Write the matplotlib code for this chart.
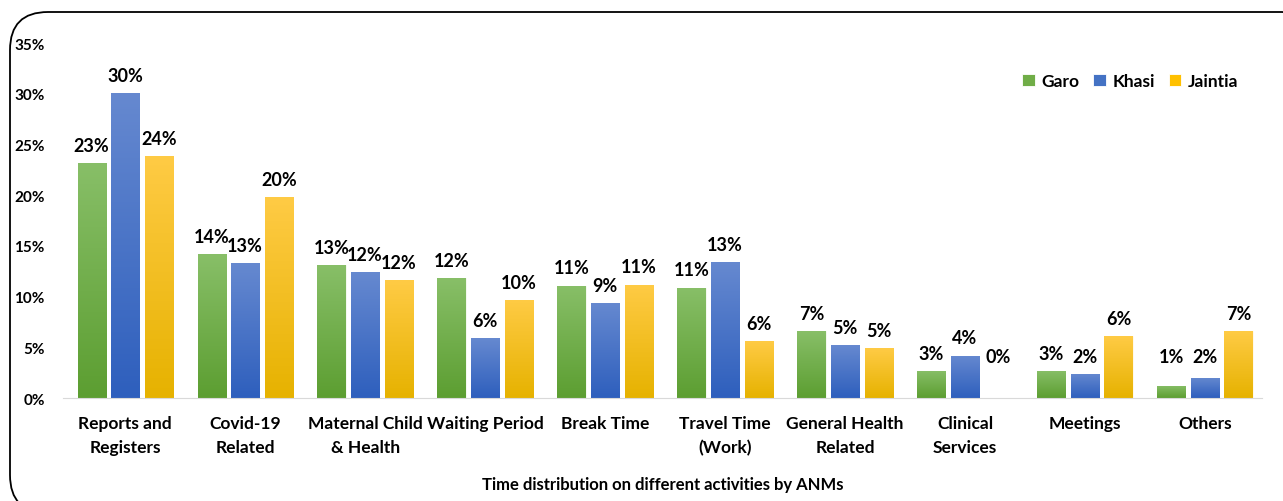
import numpy as np
import matplotlib.pyplot as plt
from matplotlib.patches import FancyBboxPatch
from matplotlib.colors import LinearSegmentedColormap

plt.rcParams['font.family'] = ['Lato', 'DejaVu Sans']

# data (percent of time)
categories = ["Reports and\nRegisters", "Covid-19\nRelated", "Maternal Child\n& Health",
              "Waiting Period", "Break Time", "Travel Time\n(Work)", "General Health\nRelated",
              "Clinical\nServices", "Meetings", "Others"]
garo = [23.2, 14.2, 13.1, 11.8, 11.1, 10.9, 6.6, 2.7, 2.7, 1.2]
khasi = [30.1, 13.3, 12.4, 5.9, 9.4, 13.4, 5.2, 4.2, 2.4, 2.0]
jaintia = [23.9, 19.8, 11.6, 9.7, 11.2, 5.6, 4.9, 0.0, 6.1, 6.6]
series_names = ["Garo", "Khasi", "Jaintia"]

# gradient colours: (top, bottom)
grads = [("#88BF68", "#5C9E31"), ("#6689D0", "#2E5FBD"), ("#FFCB45", "#E6B200")]
solid = ["#70AD47", "#4472C4", "#FFC000"]

fig = plt.figure(figsize=(12.83, 5.02), dpi=100)

# rounded frame, drawn in pixel units on a background axes (y measured from bottom)
bg = fig.add_axes([0, 0, 1, 1])
bg.set_xlim(0, 1283)
bg.set_ylim(0, 502)
bg.axis("off")
bg.add_patch(FancyBboxPatch((10, -12), 1310, 501, boxstyle="round,pad=0,rounding_size=38",
                            fill=False, edgecolor="black", linewidth=1.3))

ax = fig.add_axes([0.049, 0.205, 0.935, 0.707])
ax.patch.set_alpha(0)

x = np.arange(len(categories))
width = 0.235
offsets = [-0.28, 0, 0.28]
grad_img = np.linspace(1, 0, 256).reshape(-1, 1)

for vals, off, (ctop, cbot), name, sc in zip([garo, khasi, jaintia], offsets, grads, series_names, solid):
    bars = ax.bar(x + off, vals, width, color=sc, label=name, edgecolor="white", linewidth=0.6)
    cmap = LinearSegmentedColormap.from_list(name, [cbot, ctop])
    for b, v in zip(bars, vals):
        bx, by = b.get_x(), b.get_y()
        if v > 0:
            im = ax.imshow(grad_img, cmap=cmap, aspect="auto", extent=[bx, bx + b.get_width(), by, by + v],
                           zorder=b.get_zorder() + 0.1, vmin=0, vmax=1)
            im.set_clip_path(b)
        ax.text(bx + b.get_width() / 2, max(v, 2.4) + 0.9, f"{v:.0f}%", ha="center", va="bottom",
                fontsize=13, fontweight="bold")

ax.set_xlim(-0.52, 9.48)
ax.set_ylim(0, 35)
ax.set_yticks(np.arange(0, 36, 5))
ax.set_yticklabels([f"{t}%" for t in range(0, 36, 5)], fontsize=11, fontweight="bold")
ax.set_xticks(x)
ax.set_xticklabels(categories, fontsize=12.5, fontweight="bold", linespacing=1.6)
ax.tick_params(axis="both", length=0)
ax.tick_params(axis="x", pad=12)
ax.tick_params(axis="y", pad=13)
for s in ["top", "right", "left"]:
    ax.spines[s].set_visible(False)
ax.spines["bottom"].set_color("#D9D9D9")
ax.set_xlabel("Time distribution on different activities by ANMs", fontsize=12, fontweight="bold", labelpad=15)

ax.legend(loc="upper right", bbox_to_anchor=(0.993, 0.96), ncol=3, frameon=False,
          prop={"weight": "bold", "size": 12.5}, handlelength=0.7, handleheight=0.7,
          handletextpad=0.4, columnspacing=0.8)

fig.savefig("out.png", dpi=100)
